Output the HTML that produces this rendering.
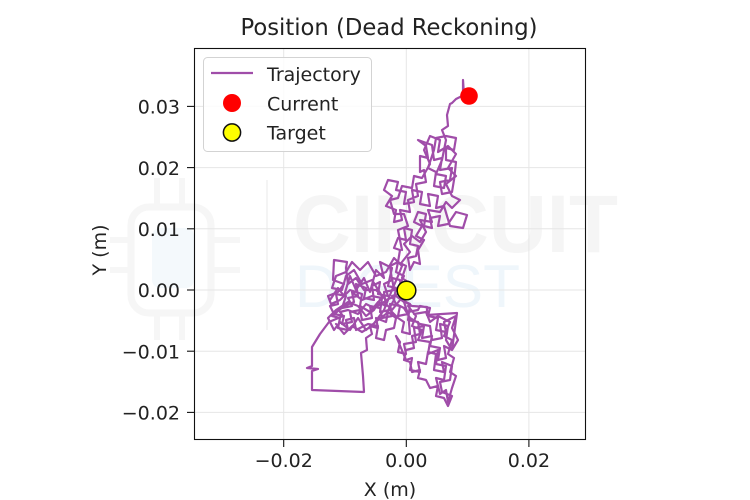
<!DOCTYPE html>
<html><head><meta charset="utf-8"><style>
html,body{margin:0;padding:0;background:#fff;}
svg{display:block;}
text{font-family:"DejaVu Sans","Liberation Sans",sans-serif;fill:#222;}
</style></head><body>
<svg width="750" height="500" viewBox="0 0 750 500" xmlns="http://www.w3.org/2000/svg">
<rect width="750" height="500" fill="#fff"/>
<!-- watermark -->
<g>
  <rect x="131" y="207" width="80" height="106" rx="18" fill="none" stroke="#f6f6f6" stroke-width="7"/>
  <rect x="152" y="228" width="42" height="60" rx="8" fill="#f4f9fc"/>
  <g stroke="#f6f6f6" stroke-width="6">
    <line x1="157" y1="178" x2="157" y2="207"/><line x1="182" y1="178" x2="182" y2="207"/>
    <line x1="157" y1="313" x2="157" y2="340"/><line x1="182" y1="313" x2="182" y2="340"/>
    <line x1="110" y1="240" x2="131" y2="240"/><line x1="110" y1="270" x2="131" y2="270"/>
    <line x1="211" y1="240" x2="240" y2="240"/><line x1="211" y1="270" x2="240" y2="270"/>
  </g>
  <line x1="267" y1="180" x2="267" y2="330" stroke="#f4f4f4" stroke-width="2"/>
  <text x="293" y="252" font-size="82" font-weight="bold" textLength="325" lengthAdjust="spacingAndGlyphs" style="fill:#f5f5f5;font-family:'Liberation Sans',sans-serif">CIRCUIT</text>
  <text x="295" y="307" font-size="60" textLength="225" lengthAdjust="spacingAndGlyphs" style="fill:#eff6fb;font-family:'Liberation Sans',sans-serif">DIGEST</text>
</g>
<!-- grid -->
<g stroke="#e6e6e6" stroke-width="1">
  <line x1="283.7" y1="48" x2="283.7" y2="440"/>
  <line x1="406.3" y1="48" x2="406.3" y2="440"/>
  <line x1="528.9" y1="48" x2="528.9" y2="440"/>
  <line x1="194" y1="106.4" x2="586" y2="106.4"/>
  <line x1="194" y1="167.6" x2="586" y2="167.6"/>
  <line x1="194" y1="228.8" x2="586" y2="228.8"/>
  <line x1="194" y1="290" x2="586" y2="290"/>
  <line x1="194" y1="351.2" x2="586" y2="351.2"/>
  <line x1="194" y1="412.4" x2="586" y2="412.4"/>
</g>
<!-- trajectory -->
<g fill="none" stroke="#a04da9" stroke-width="2.2" stroke-linejoin="round" stroke-linecap="round">
<path d="
M406,290 L400,284 404,276 396,272 398,262 390,266 392,280 384,284 388,296 378,294 380,282 372,286 374,300 364,298 366,288 356,284 358,296 348,298 352,306 342,308 346,296 336,294 338,304 330,306 334,314 344,316 342,324 352,322 350,312 360,310 362,320 372,318 370,306 380,308 382,318 392,316 390,304 400,306 398,316 408,314 404,302
L396,296 386,300 376,290 364,290 356,278 348,284 346,268 347,262 334,260 333,280 344,284 338,292 328,296 331,304 340,300 350,290 362,294 360,306 370,312 378,302 386,306 384,292 394,290 392,278 400,280 402,294 410,296
L400,300 392,310 384,302 374,308 366,304 358,314 348,310 340,312 343,316 329,322 320,334 312,347 312,366 307,368 318,369 312,371 312,390 364,392 363,376 361,353 367,350 366,338 372,334 370,326 378,328 376,318 386,322 388,312 396,318 394,328 386,330 384,340 376,338 378,326 368,324 356,330 354,318 346,320 348,330 338,328 340,318 332,316
L344,306 354,302 352,292 362,300 372,296 382,298 380,312 390,310 398,318 404,322 402,332 410,334 408,312 418,310 420,306 430,308 428,316 438,318 436,330 446,332 444,322 456,316 452,328 458,340 452,350 444,346 446,358 438,360 440,348 430,346 432,336 422,338 424,326 414,328 416,342 404,344 406,354 398,352 400,342 396,336 406,360 412,358 410,370 420,372 418,362 426,364 428,352 436,354 434,370 444,372 442,362 452,366 450,380 440,382 442,392 452,396 448,406 444,398 436,396 438,386 430,388 426,380 418,378 420,370 412,372 410,362 404,360 406,350 414,348 412,336 420,334 418,322 408,320 410,304 402,300
L412,306 427,307 427,315 457,313 452,350 446,340 448,326 440,324 442,338 432,340 430,326 420,324
L410,318 404,308 396,304 392,296 404,292
L408,282 402,278 406,266 398,262 400,250 394,248 398,238 406,240 404,228 412,230 410,244 418,246 416,256 408,258 410,270 414,262 420,264 418,250 424,240 416,236 422,226 414,222 418,212 426,214 424,226 432,228 430,218 440,216 438,226 448,224 456,212 467,215 463,228 450,226 444,206 436,208 438,196 428,194 430,206 420,204 422,192 412,190 414,202 404,204 406,192 396,190 398,182 388,180 384,190 392,196 386,206 396,210 394,222 402,220 400,210 410,212 408,200
L418,196 416,184 426,182 424,170 420,172 420,156 428,158 426,146 418,140 432,145 434,160 442,158 440,170 452,168 450,180 440,182 442,194 452,192 454,180 456,162 446,160 446,148 454,150 456,138 446,136 436,138 434,150 428,168 436,172 434,186 444,188 446,176 436,174 442,160 446,140 442,130 448,126 447,115 450,104 452,103 456,99 458,98 464,95 463,80 463,96 469,96"/>
<path d="M330,300 L338,288 344,296 350,276 356,290 364,278 370,292 376,270 384,278 380,262 392,268 388,286 396,288 394,300 386,314 378,320 366,330 358,318 350,330 340,322 334,330 328,318 336,310 348,302 358,306 366,316 374,310 382,296 372,280 362,284 354,270 346,276 342,290 332,288 336,276 346,272 352,262 360,270 368,262 376,276 386,272 394,258 402,266 398,276 392,290 384,310 372,326 362,332 352,326 344,334 336,324"/>
<path d="M408,306 L416,316 412,326 422,330 418,340 430,342 428,354 438,350 436,364 446,366 444,380 436,378 440,394 446,390 448,402 452,388 456,376 450,372 454,358 448,354 452,340 444,336 450,322 438,316 430,322 426,312 414,314"/>
<path d="M402,262 L410,252 404,244 412,236 420,242 426,232 420,220 432,222 428,210 440,212 446,202 452,208 460,200 452,196 446,184 456,176 448,168 456,154 448,146 438,152 440,140 430,136 424,150 430,164 422,178 414,176 412,188 402,186 398,198 390,200 394,214 404,214 408,226 398,230 402,250"/>
</g>
<!-- markers -->
<circle cx="469" cy="96" r="8.8" fill="#ff0000"/>
<circle cx="406.5" cy="290.5" r="9.3" fill="#ffff00" stroke="#111" stroke-width="1.5"/>
<!-- frame -->
<rect x="194.5" y="48.5" width="391" height="391" fill="none" stroke="#111" stroke-width="1.1"/>
<!-- ticks -->
<g stroke="#111" stroke-width="1.1">
  <line x1="283.7" y1="440" x2="283.7" y2="447"/>
  <line x1="406.3" y1="440" x2="406.3" y2="447"/>
  <line x1="528.9" y1="440" x2="528.9" y2="447"/>
  <line x1="187" y1="106.4" x2="194" y2="106.4"/>
  <line x1="187" y1="167.6" x2="194" y2="167.6"/>
  <line x1="187" y1="228.8" x2="194" y2="228.8"/>
  <line x1="187" y1="290" x2="194" y2="290"/>
  <line x1="187" y1="351.2" x2="194" y2="351.2"/>
  <line x1="187" y1="412.4" x2="194" y2="412.4"/>
</g>
<g font-size="19" text-anchor="middle">
  <text x="283.7" y="467">−0.02</text>
  <text x="406.3" y="467">0.00</text>
  <text x="528.9" y="467">0.02</text>
</g>
<g font-size="19" text-anchor="end">
  <text x="180" y="113.6">0.03</text>
  <text x="180" y="174.8">0.02</text>
  <text x="180" y="236">0.01</text>
  <text x="180" y="297.2">0.00</text>
  <text x="180" y="358.4">−0.01</text>
  <text x="180" y="419.6">−0.02</text>
</g>
<text x="390" y="496" font-size="19" text-anchor="middle">X (m)</text>
<text transform="translate(106,250) rotate(-90)" font-size="19" text-anchor="middle">Y (m)</text>
<text x="389" y="35" font-size="22.7" text-anchor="middle">Position (Dead Reckoning)</text>
<!-- legend -->
<rect x="203.5" y="57.5" width="168" height="94" rx="4" fill="#fff" fill-opacity="0.85" stroke="#d3d3d3" stroke-width="1"/>
<line x1="211" y1="73" x2="253" y2="73" stroke="#a04da9" stroke-width="2.2"/>
<circle cx="232" cy="103" r="9" fill="#ff0000"/>
<circle cx="232" cy="132.5" r="8.6" fill="#ffff00" stroke="#111" stroke-width="1.5"/>
<g font-size="19">
  <text x="267" y="81">Trajectory</text>
  <text x="267" y="110.5">Current</text>
  <text x="267" y="139.5">Target</text>
</g>
</svg>
</body></html>
